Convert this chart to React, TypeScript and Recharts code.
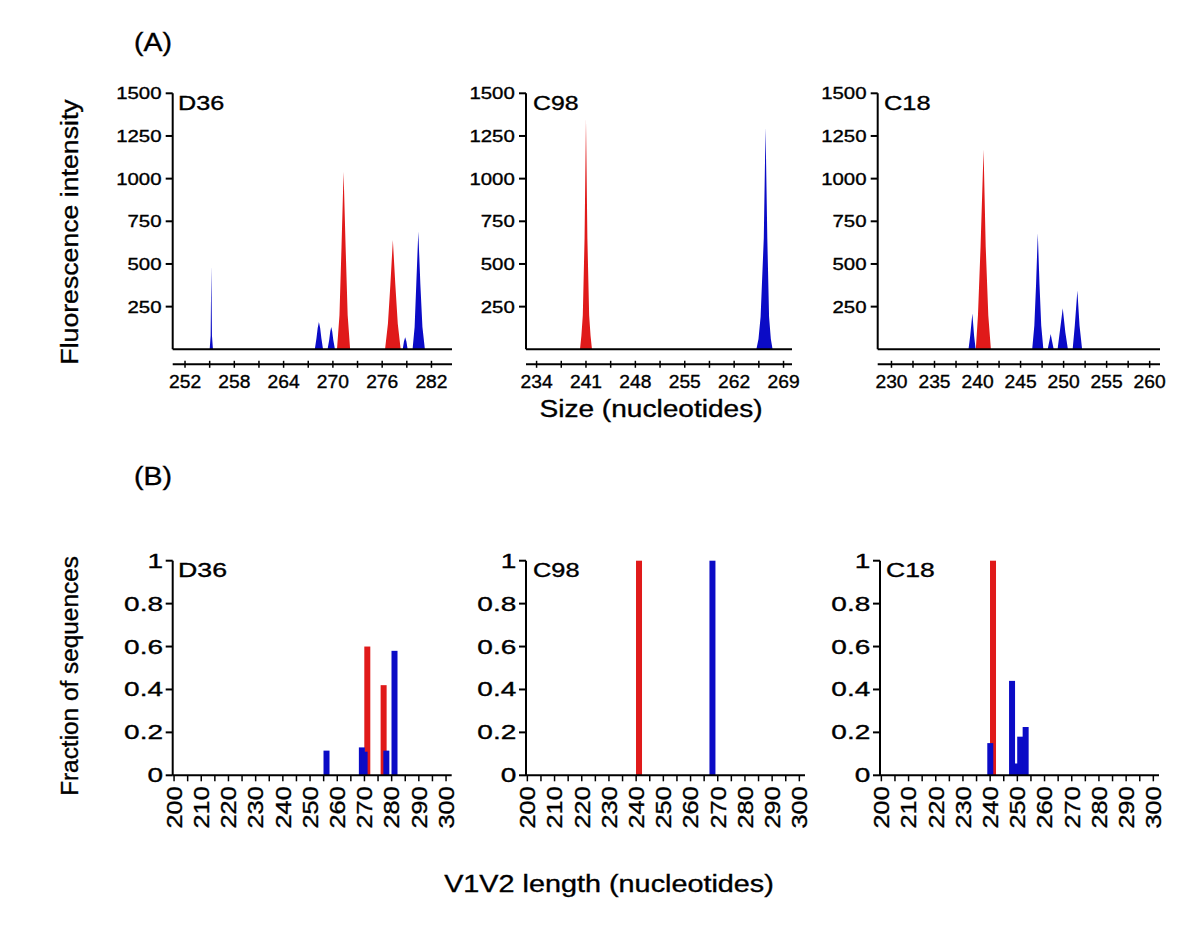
import React from 'react';
import { ComposedChart, Area, XAxis, YAxis, BarChart, Bar } from 'recharts';

const RED = '#e01a1a';
const BLUE = '#0b0bc6';
const FONT = '"Liberation Sans", Arial, Helvetica, sans-serif';

// ---------- Panel (A): fluorescence traces, [size, intensity] ----------
const d36RedTrace = [
  [270.5, 0], [270.8, 200], [271.05, 600], [271.3, 1040], [271.55, 600], [271.8, 200], [272.1, 0],
  [276.35, 0], [276.7, 150], [277.0, 380], [277.3, 640], [277.6, 380], [277.9, 150], [278.25, 0],
];
const d36BlueTrace = [
  [255.0, 0], [255.12, 80], [255.2, 490], [255.28, 80], [255.4, 0],
  [267.8, 0], [268.0, 65], [268.15, 125], [268.3, 160], [268.45, 125], [268.6, 65], [268.8, 0],
  [269.35, 0], [269.55, 55], [269.68, 105], [269.8, 130], [269.92, 105], [270.05, 55], [270.25, 0],
  [278.5, 0], [278.65, 45], [278.8, 70], [278.95, 45], [279.1, 0],
  [279.7, 0], [279.95, 130], [280.15, 380], [280.4, 690], [280.65, 380], [280.9, 130], [281.2, 0],
];
const c98RedTrace = [
  [240.15, 0], [240.35, 80], [240.55, 200], [240.8, 650], [241.0, 1350], [241.2, 650], [241.45, 200], [241.65, 80], [241.85, 0],
];
const c98BlueTrace = [
  [265.15, 0], [265.45, 60], [265.75, 190], [266.2, 650], [266.45, 1300], [266.7, 650], [266.95, 190], [267.2, 60], [267.45, 0],
];
const c18RedTrace = [
  [239.8, 0], [240.05, 200], [240.35, 600], [240.7, 1170], [240.95, 600], [241.25, 200], [241.55, 0],
];
const c18BlueTrace = [
  [238.95, 0], [239.15, 80], [239.4, 210], [239.6, 80], [239.78, 0],
  [246.35, 0], [246.6, 140], [246.8, 380], [247.0, 680], [247.2, 380], [247.4, 140], [247.65, 0],
  [248.15, 0], [248.35, 50], [248.5, 90], [248.65, 50], [248.85, 0],
  [249.3, 0], [249.55, 100], [249.9, 240], [250.2, 100], [250.5, 0],
  [251.05, 0], [251.3, 140], [251.6, 345], [251.85, 140], [252.15, 0],
];

const intensityTicks = [250, 500, 750, 1000, 1250, 1500];
const d36SizeTicks = [252, 255, 258, 261, 264, 267, 270, 273, 276, 279, 282];
const d36SizeLabels = [252, 258, 264, 270, 276, 282];
const c98SizeTicks = [234, 237.5, 241, 244.5, 248, 251.5, 255, 258.5, 262, 265.5, 269];
const c98SizeLabels = [234, 241, 248, 255, 262, 269];
const c18SizeTicks = [230, 232.5, 235, 237.5, 240, 242.5, 245, 247.5, 250, 252.5, 255, 257.5, 260];
const c18SizeLabels = [230, 235, 240, 245, 250, 255, 260];

// ---------- Panel (B): fraction of sequences, [V1V2 length, fraction] ----------
const d36RedFraction = [[271, 0.6], [277, 0.42]];
const d36BlueFraction = [[256, 0.115], [269, 0.13], [270, 0.11], [278, 0.115], [281, 0.58]];
const c98RedFraction = [[241, 1.0]];
const c98BlueFraction = [[268, 1.0]];
const c18RedFraction = [[241, 1.0]];
const c18BlueFraction = [[240, 0.15], [248, 0.44], [250, 0.055], [251, 0.18], [253, 0.225]];

const lengthStart = 200;
const lengthEnd = 300;
const lengthTicks = [200, 205, 210, 215, 220, 225, 230, 235, 240, 245, 250, 255, 260, 265, 270, 275, 280, 285, 290, 295, 300];
const lengthLabels = [200, 210, 220, 230, 240, 250, 260, 270, 280, 290, 300];
const fractionTicks = [0, 0.2, 0.4, 0.6, 0.8, 1];

function mergeTraces(red: number[][], blue: number[][]) {
  const xs = Array.from(new Set([...red.map((p) => p[0]), ...blue.map((p) => p[0])])).sort((a, b) => a - b);
  const rm = new Map(red.map((p) => [p[0], p[1]] as [number, number]));
  const bm = new Map(blue.map((p) => [p[0], p[1]] as [number, number]));
  return xs.map((x) => ({ x, red: rm.get(x) ?? 0, blue: bm.get(x) ?? 0 }));
}

function buildFractionTable(red: number[][], blue: number[][]) {
  const rm = new Map(red.map((p) => [p[0], p[1]] as [number, number]));
  const bm = new Map(blue.map((p) => [p[0], p[1]] as [number, number]));
  const rows: { len: number; red: number | null; blue: number | null }[] = [];
  for (let len = lengthStart; len <= lengthEnd; len++) {
    rows.push({ len, red: rm.get(len) ?? null, blue: bm.get(len) ?? null });
  }
  return rows;
}

function SText(props: any) {
  const { x, y, size, sx = 1, anchor = 'start', rotate = 0, children, heavy = 0.35 } = props;
  return (
    <text
      transform={`translate(${x} ${y}) rotate(${rotate}) scale(${sx} 1)`}
      x={0}
      y={0}
      fontSize={size}
      fontFamily={FONT}
      textAnchor={anchor}
      fill="#000"
      stroke="#000"
      strokeWidth={heavy}
    >
      {children}
    </text>
  );
}

const AX = { stroke: '#000', strokeWidth: 2 };

function IntensityTick(p: any) {
  return (
    <SText x={p.x} y={p.y + 6} size={17} sx={1.2} anchor="end">
      {String(p.payload.value)}
    </SText>
  );
}

function makeSizeTick(labels: number[]) {
  return (p: any) => {
    const v = p.payload.value;
    return (
      <g>
        <line x1={p.x} x2={p.x} y1={p.y - 3.5} y2={p.y + 3.5} stroke="#000" strokeWidth={1.5} />
        {labels.includes(v) ? (
          <SText x={p.x} y={p.y + 23.5} size={18} sx={1.07} anchor="middle">
            {String(v)}
          </SText>
        ) : null}
      </g>
    );
  };
}

function FractionTick(p: any) {
  return (
    <SText x={p.x} y={p.y + 7} size={20} sx={1.4} anchor="end">
      {String(p.payload.value)}
    </SText>
  );
}

function LengthTick(p: any) {
  const v = p.payload.value;
  if (!lengthLabels.includes(v)) return <g />;
  return (
    <SText x={p.x + 7.8} y={p.y + 5} size={22} sx={1.15} anchor="end" rotate={-90}>
      {String(v)}
    </SText>
  );
}

function makeBarShape(color: string) {
  return (p: any) => {
    if (!p.height || p.height <= 0) return <g />;
    return <rect x={p.x + p.width / 2 - 3} y={p.y} width={6} height={p.height} fill={color} />;
  };
}

function TracePanel(props: any) {
  const { left, top, width, height, yAxisWidth, mTop, mRight, mBottom, domain, ticks, labels, red, blue } = props;
  const data = mergeTraces(red, blue);
  const SizeTick = makeSizeTick(labels);
  return (
    <div style={{ position: 'absolute', left, top, width, height }}>
      <ComposedChart width={width} height={height} data={data} margin={{ top: mTop, right: mRight, bottom: mBottom, left: 0 }} style={{ overflow: 'visible' }}>
        <XAxis xAxisId="base" dataKey="x" type="number" domain={domain} allowDataOverflow tick={false} tickLine={false} axisLine={AX} height={15} />
        <XAxis
          xAxisId="main"
          dataKey="x"
          type="number"
          domain={domain}
          allowDataOverflow
          ticks={ticks}
          interval={0}
          tickLine={false}
          tickSize={0}
          tickMargin={0}
          axisLine={AX}
          height={40}
          tick={SizeTick}
        />
        <YAxis
          type="number"
          width={yAxisWidth}
          domain={[0, 1500]}
          allowDataOverflow
          ticks={intensityTicks}
          interval={0}
          tickSize={7}
          tickMargin={4.2}
          tickLine={AX}
          axisLine={AX}
          tick={IntensityTick}
        />
        <Area xAxisId="main" dataKey="red" type="linear" fill={RED} fillOpacity={1} stroke="none" dot={false} activeDot={false} isAnimationActive={false} />
        <Area xAxisId="main" dataKey="blue" type="linear" fill={BLUE} fillOpacity={1} stroke="none" dot={false} activeDot={false} isAnimationActive={false} />
      </ComposedChart>
    </div>
  );
}

function FractionPanel(props: any) {
  const { left, top, width, height, yAxisWidth, mTop, mRight, mBottom, red, blue } = props;
  const data = buildFractionTable(red, blue);
  return (
    <div style={{ position: 'absolute', left, top, width, height }}>
      <BarChart width={width} height={height} data={data} margin={{ top: mTop, right: mRight, bottom: mBottom, left: 0 }} barCategoryGap={0} style={{ overflow: 'visible' }}>
        <XAxis
          xAxisId="len"
          dataKey="len"
          type="category"
          ticks={lengthTicks}
          interval={0}
          tickSize={6}
          tickMargin={0}
          tickLine={{ stroke: '#000', strokeWidth: 1.5 }}
          axisLine={AX}
          height={60}
          padding={{ left: 0, right: 4.3 }}
          tick={LengthTick}
        />
        <XAxis xAxisId="len2" dataKey="len" type="category" hide padding={{ left: 0, right: 4.3 }} />
        <YAxis
          type="number"
          width={yAxisWidth}
          domain={[0, 1]}
          ticks={fractionTicks}
          interval={0}
          tickSize={7}
          tickMargin={2.7}
          tickLine={AX}
          axisLine={AX}
          tick={FractionTick}
        />
        <Bar xAxisId="len" dataKey="red" fill={RED} shape={makeBarShape(RED)} isAnimationActive={false} />
        <Bar xAxisId="len2" dataKey="blue" fill={BLUE} shape={makeBarShape(BLUE)} isAnimationActive={false} />
      </BarChart>
    </div>
  );
}

export default function App() {
  return (
    <div style={{ position: 'absolute', left: 0, top: 0, width: 1200, height: 934, background: '#fff', fontFamily: FONT }}>
      <TracePanel left={100} top={80} width={360} height={330} yAxisWidth={72.7} mTop={13.3} mRight={8} mBottom={5.7}
        domain={[250.5, 284.5]} ticks={d36SizeTicks} labels={d36SizeLabels} red={d36RedTrace} blue={d36BlueTrace} />
      <TracePanel left={450} top={80} width={350} height={330} yAxisWidth={76} mTop={13.3} mRight={8} mBottom={5.7}
        domain={[232.5, 270.2]} ticks={c98SizeTicks} labels={c98SizeLabels} red={c98RedTrace} blue={c98BlueTrace} />
      <TracePanel left={800} top={80} width={370} height={330} yAxisWidth={77.7} mTop={13.3} mRight={10} mBottom={5.7}
        domain={[228.4, 261.2]} ticks={c18SizeTicks} labels={c18SizeLabels} red={c18RedTrace} blue={c18BlueTrace} />

      <FractionPanel left={100} top={540} width={365} height={310} yAxisWidth={72.7} mTop={20.7} mRight={13.3} mBottom={14.7}
        red={d36RedFraction} blue={d36BlueFraction} />
      <FractionPanel left={450} top={540} width={370} height={310} yAxisWidth={76} mTop={20.7} mRight={15} mBottom={14.7}
        red={c98RedFraction} blue={c98BlueFraction} />
      <FractionPanel left={800} top={540} width={380} height={310} yAxisWidth={80} mTop={20.7} mRight={21} mBottom={14.7}
        red={c18RedFraction} blue={c18BlueFraction} />

      <svg width={1200} height={934} style={{ position: 'absolute', left: 0, top: 0, pointerEvents: 'none' }}>
        <SText x={134} y={51} size={25} sx={1.14}>(A)</SText>
        <SText x={134} y={485} size={25} sx={1.14}>(B)</SText>
        <SText x={78} y={232} size={23} sx={1.16} anchor="middle" rotate={-90}>Fluorescence intensity</SText>
        <SText x={78} y={676} size={23} sx={1.06} anchor="middle" rotate={-90}>Fraction of sequences</SText>
        <SText x={651} y={417} size={24} sx={1.17} anchor="middle">Size (nucleotides)</SText>
        <SText x={609} y={892} size={24} sx={1.2} anchor="middle">V1V2 length (nucleotides)</SText>

        <SText x={178} y={109.5} size={20} sx={1.26}>D36</SText>
        <SText x={533} y={109.5} size={20} sx={1.24}>C98</SText>
        <SText x={884} y={109.5} size={20} sx={1.27}>C18</SText>
        <SText x={178} y={577.3} size={19.5} sx={1.37}>D36</SText>
        <SText x={533} y={577.3} size={19.5} sx={1.3}>C98</SText>
        <SText x={886} y={577.3} size={19.5} sx={1.36}>C18</SText>
      </svg>
    </div>
  );
}
